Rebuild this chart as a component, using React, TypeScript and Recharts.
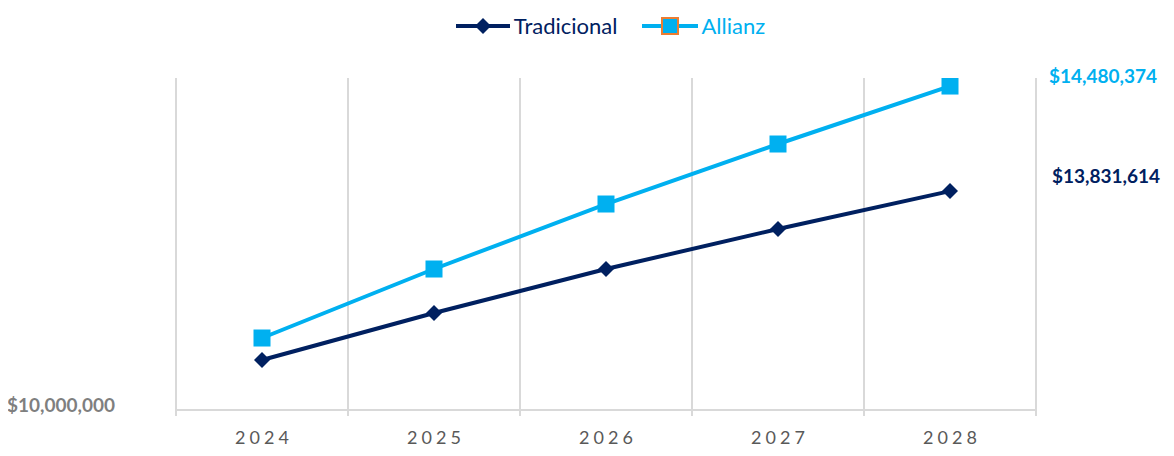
import React from "react";
import {
    LineChart,
    Line,
    XAxis,
    YAxis,
    CartesianGrid,
    Legend,
    LabelList,
} from "recharts";

const years = ["2024", "2025", "2026", "2027", "2028"];
const tradicional = [12788650, 13078875, 13350600, 13597575, 13831614];
const allianz = [12924500, 13350600, 13751950, 14122450, 14480374];
const seriesNames = ["Tradicional", "Allianz"];
const yTickValues = [12480000];
const yTickLabels = ["$10,000,000"];
const yDomain = [12480000, 14530000];

const NAVY = "#002060";
const BLUE = "#00b0f0";
const GRID = "#d9d9d9";
const FONT = "Lato, 'Open Sans', sans-serif";

const data = years.map((year, i) => ({
    idx: i,
    year,
    tradicional: tradicional[i],
    allianz: allianz[i],
}));

const boundaries = [...years.map((_, i) => i - 0.5), years.length - 0.5];
const centers = years.map((_, i) => i);

const money = (v: number) => "$" + v.toLocaleString("en-US");

// vertical grid lines sit between the categories
const boundaryLines = ({ offset }: any) =>
    boundaries.map((_, i) => offset.left + (i * offset.width) / years.length);

const Diamond = (props: any) => {
    const { cx, cy } = props;
    if (cx == null || cy == null) return null;
    const r = 8;
    return (
        <path
            d={`M${cx},${cy - r}L${cx + r},${cy}L${cx},${cy + r}L${cx - r},${cy}Z`}
            fill={NAVY}
        />
    );
};

const Square = (props: any) => {
    const { cx, cy } = props;
    if (cx == null || cy == null) return null;
    const s = 17;
    return <rect x={cx - s / 2} y={cy - s / 2} width={s} height={s} fill={BLUE} />;
};

const YearTick = (props: any) => {
    const { x, y, payload } = props;
    return (
        <text
            x={x + 2}
            y={y}
            dy={20}
            textAnchor="middle"
            fill="#595959"
            fontSize={18}
            fontFamily={FONT}
            letterSpacing={4}
        >
            {years[payload.value]}
        </text>
    );
};

const ValueTick = (props: any) => {
    const { y, index } = props;
    return (
        <text
            x={107}
            y={y}
            dy={2}
            textAnchor="end"
            fill="#7f7f7f"
            fontSize={19}
            fontWeight="bold"
            fontFamily={FONT}
        >
            {yTickLabels[index]}
        </text>
    );
};

const endLabel = (color: string, dx: number, dy: number) => (props: any) => {
    const { x, y, index, value } = props;
    if (index !== years.length - 1) return null;
    return (
        <text
            x={x + dx}
            y={y + dy}
            fill={color}
            fontSize={19}
            fontWeight="bold"
            fontFamily={FONT}
        >
            {money(value)}
        </text>
    );
};

const LegendContent = () => (
    <div
        style={{
            height: 70,
            display: "flex",
            justifyContent: "center",
            alignItems: "flex-start",
            paddingLeft: 38,
            paddingTop: 4,
            boxSizing: "border-box",
            fontFamily: FONT,
            fontSize: 22,
        }}
    >
        <div style={{ display: "flex", alignItems: "center", marginRight: 24 }}>
            <svg width={56} height={26}>
                <line x1={1} y1={13} x2={55} y2={13} stroke={NAVY} strokeWidth={4} />
                <path d="M28,5L36,13L28,21L20,13Z" fill={NAVY} />
            </svg>
            <span style={{ color: NAVY, marginLeft: 3 }}>{seriesNames[0]}</span>
        </div>
        <div style={{ display: "flex", alignItems: "center" }}>
            <svg width={58} height={26}>
                <line x1={1} y1={13} x2={57} y2={13} stroke={BLUE} strokeWidth={4} />
                <rect x={21} y={5} width={16} height={16} fill={BLUE} stroke="#ed7d31" strokeWidth={2} />
            </svg>
            <span style={{ color: BLUE, marginLeft: 2 }}>{seriesNames[1]}</span>
        </div>
    </div>
);

export default function App() {
    return (
        <LineChart
            width={1166}
            height={448}
            data={data}
            margin={{ top: 0, right: 138, bottom: 0, left: 0 }}
        >
            <Legend
                verticalAlign="top"
                height={70}
                content={<LegendContent />}
                wrapperStyle={{ left: 0, width: 1166 }}
            />
            <CartesianGrid
                horizontal={false}
                verticalCoordinatesGenerator={boundaryLines}
                stroke={GRID}
                strokeWidth={2}
            />
            <XAxis
                xAxisId="grid"
                dataKey="idx"
                type="number"
                domain={[-0.5, years.length - 0.5]}
                ticks={boundaries}
                interval={0}
                tick={() => <g />}
                tickSize={6}
                tickLine={{ stroke: GRID, strokeWidth: 2 }}
                axisLine={{ stroke: GRID, strokeWidth: 2 }}
                height={6}
            />
            <XAxis
                xAxisId="labels"
                dataKey="idx"
                type="number"
                domain={[-0.5, years.length - 0.5]}
                ticks={centers}
                interval={0}
                tick={<YearTick />}
                tickLine={false}
                axisLine={false}
                height={40}
            />
            <YAxis
                type="number"
                domain={yDomain}
                ticks={yTickValues}
                tick={<ValueTick />}
                axisLine={false}
                tickLine={false}
                width={168}
                allowDataOverflow
            />
            <Line
                xAxisId="labels"
                dataKey="tradicional"
                name={seriesNames[0]}
                stroke={NAVY}
                strokeWidth={4}
                dot={<Diamond />}
                activeDot={false}
                isAnimationActive={false}
            >
                <LabelList dataKey="tradicional" content={endLabel(NAVY, 102, -8)} />
            </Line>
            <Line
                xAxisId="labels"
                dataKey="allianz"
                name={seriesNames[1]}
                stroke={BLUE}
                strokeWidth={4}
                dot={<Square />}
                activeDot={false}
                isAnimationActive={false}
            >
                <LabelList dataKey="allianz" content={endLabel(BLUE, 99, -3)} />
            </Line>
        </LineChart>
    );
}
